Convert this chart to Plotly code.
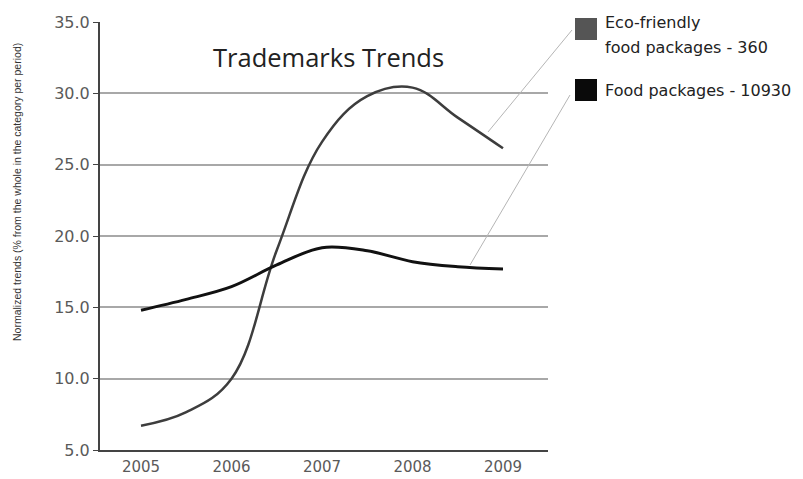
import plotly.graph_objects as go

# ---- data ----
years = [2005, 2005.5, 2006, 2006.5, 2007, 2007.5, 2008, 2008.5, 2009]
eco_friendly = [6.7, 7.65, 10.0, 19.0, 26.6, 29.8, 30.4, 28.3, 26.15]
food_packages = [14.8, 15.56, 16.45, 17.97, 19.18, 18.97, 18.2, 17.85, 17.69]
tick_years = [2005, 2006, 2007, 2008, 2009]
tick_labels = ["2005", "2006", "2007", "2008", "2009"]
y_ticks = [5, 10, 15, 20, 25, 30, 35]
legend_eco = ["Eco-friendly", "food packages - 360"]
legend_food = "Food packages - 10930"
title_text = "Trademarks Trends"
y_title = "Normalized trends (% from the whole in the category per period)"

W, H = 803, 479
L, R, T, B = 100, 548, 22, 450


def px(x):
    return (x - L) / (R - L)


def py(y):
    return (B - y) / (B - T)


fig = go.Figure()
fig.add_trace(go.Scatter(x=years, y=eco_friendly, mode="lines",
                         line=dict(color="#3d3d3d", width=2.5, shape="spline", smoothing=1.1),
                         showlegend=False, hoverinfo="skip"))
fig.add_trace(go.Scatter(x=years, y=food_packages, mode="lines",
                         line=dict(color="#111111", width=3, shape="spline"),
                         showlegend=False, hoverinfo="skip"))

shapes = [
    # leader lines
    dict(type="line", xref="paper", yref="paper", x0=px(572), y0=py(30), x1=px(488), y1=py(132),
         line=dict(color="#b5b5b5", width=1)),
    dict(type="line", xref="paper", yref="paper", x0=px(570), y0=py(95), x1=px(470), y1=py(265),
         line=dict(color="#b5b5b5", width=1)),
    # legend squares
    dict(type="rect", xref="paper", yref="paper", x0=px(575), x1=px(597), y0=py(18), y1=py(40),
         fillcolor="#555555", line=dict(width=0)),
    dict(type="rect", xref="paper", yref="paper", x0=px(575), x1=px(597), y0=py(79), y1=py(101),
         fillcolor="#0a0a0a", line=dict(width=0)),
]

legend_font = dict(family="DejaVu Sans", size=16, color="#222222")
annotations = [
    dict(text=title_text, xref="paper", yref="paper", x=px(328), y=py(57), showarrow=False,
         xanchor="center", yanchor="middle", font=dict(family="Open Sans", size=25.5, color="#222222")),
    dict(text=y_title, xref="paper", yref="paper", x=px(17), y=py(192), showarrow=False,
         textangle=-90, xanchor="center", yanchor="middle",
         font=dict(family="Liberation Sans", size=10.5, color="#333333")),
    dict(text=legend_eco[0], xref="paper", yref="paper", x=px(603), y=py(22), showarrow=False,
         xanchor="left", yanchor="middle", font=legend_font),
    dict(text=legend_eco[1], xref="paper", yref="paper", x=px(603), y=py(47), showarrow=False,
         xanchor="left", yanchor="middle", font=legend_font),
    dict(text=legend_food, xref="paper", yref="paper", x=px(603), y=py(90), showarrow=False,
         xanchor="left", yanchor="middle", font=legend_font),
]

fig.update_layout(
    width=W, height=H,
    margin=dict(l=L, r=W - R, t=T, b=H - B, pad=0),
    paper_bgcolor="white", plot_bgcolor="white",
    shapes=shapes, annotations=annotations,
    xaxis=dict(range=[2005 - 41 / 90.5, 2009 + 45 / 90.5], tickvals=tick_years, ticktext=tick_labels,
               showgrid=False, zeroline=False, showline=True, linecolor="#444444", linewidth=2,
               ticks="", ticklabelstandoff=2, automargin=False,
               tickfont=dict(family="DejaVu Sans", size=15, color="#5a5a5a")),
    yaxis=dict(range=[5, 35], tickvals=y_ticks, tickformat=".1f", automargin=False,
               showgrid=True, gridcolor="#a8a8a8", gridwidth=1.5, zeroline=False,
               showline=True, linecolor="#444444", linewidth=2,
               ticks="outside", ticklen=5, tickcolor="#444444", tickwidth=1,
               tickfont=dict(family="DejaVu Sans", size=16, color="#5a5a5a")),
)

fig.write_html("out.html")
